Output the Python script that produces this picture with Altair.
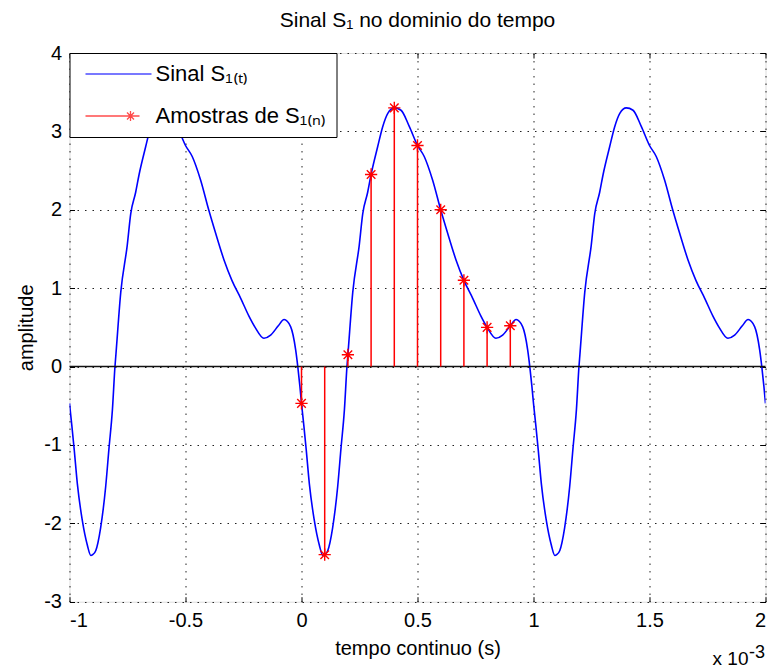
import altair as alt
import pandas as pd

# ---- data (time in units of 1e-3 s) ----
curve_t = [
    -1.000, -0.990, -0.980, -0.966, -0.945, -0.923, -0.908, -0.900, -0.887, -0.866, -0.844,
    -0.830, -0.815, -0.804, -0.800, -0.779, -0.751, -0.736, -0.715, -0.700, -0.672, -0.650,
    -0.628, -0.600, -0.571, -0.535, -0.500, -0.471, -0.435, -0.400, -0.370, -0.334, -0.300,
    -0.262, -0.226, -0.200, -0.162, -0.133, -0.100, -0.075, -0.047, -0.025, -0.016, -0.007,
    0.000, 0.010, 0.020, 0.034, 0.055, 0.077, 0.092, 0.100, 0.113, 0.134, 0.156,
    0.170, 0.185, 0.196, 0.200, 0.221, 0.249, 0.264, 0.285, 0.300, 0.328, 0.350,
    0.372, 0.400, 0.429, 0.465, 0.500, 0.529, 0.565, 0.600, 0.630, 0.666, 0.700,
    0.738, 0.774, 0.800, 0.838, 0.867, 0.900, 0.925, 0.953, 0.975, 0.984, 0.993,
    1.000, 1.010, 1.020, 1.034, 1.055, 1.077, 1.092, 1.100, 1.113, 1.134, 1.156,
    1.170, 1.185, 1.196, 1.200, 1.221, 1.249, 1.264, 1.285, 1.300, 1.328, 1.350,
    1.372, 1.400, 1.429, 1.465, 1.500, 1.529, 1.565, 1.600, 1.630, 1.666, 1.700,
    1.738, 1.774, 1.800, 1.838, 1.867, 1.900, 1.925, 1.953, 1.975, 1.984, 1.993,
    2.000,
]
curve_amp = [
    -0.47, -0.75, -1.05, -1.50, -1.96, -2.28, -2.41, -2.40, -2.35, -2.06, -1.53,
    -1.05, -0.55, 0.00, 0.15, 0.95, 1.55, 1.95, 2.22, 2.45, 2.80, 3.06,
    3.23, 3.30, 3.27, 3.06, 2.82, 2.68, 2.38, 2.00, 1.70, 1.36, 1.10,
    0.87, 0.64, 0.50, 0.36, 0.40, 0.52, 0.60, 0.51, 0.21, 0.00, -0.25,
    -0.47, -0.75, -1.05, -1.50, -1.96, -2.28, -2.41, -2.40, -2.35, -2.06, -1.53,
    -1.05, -0.55, 0.00, 0.15, 0.95, 1.55, 1.95, 2.22, 2.45, 2.80, 3.06,
    3.23, 3.30, 3.27, 3.06, 2.82, 2.68, 2.38, 2.00, 1.70, 1.36, 1.10,
    0.87, 0.64, 0.50, 0.36, 0.40, 0.52, 0.60, 0.51, 0.21, 0.00, -0.25,
    -0.47, -0.75, -1.05, -1.50, -1.96, -2.28, -2.41, -2.40, -2.35, -2.06, -1.53,
    -1.05, -0.55, 0.00, 0.15, 0.95, 1.55, 1.95, 2.22, 2.45, 2.80, 3.06,
    3.23, 3.30, 3.27, 3.06, 2.82, 2.68, 2.38, 2.00, 1.70, 1.36, 1.10,
    0.87, 0.64, 0.50, 0.36, 0.40, 0.52, 0.60, 0.51, 0.21, 0.00, -0.25,
    -0.47,
]
sample_t = [0.0, 0.1, 0.2, 0.3, 0.4, 0.5, 0.6, 0.7, 0.8, 0.9]
sample_amp = [-0.47, -2.40, 0.15, 2.45, 3.30, 2.82, 2.00, 1.10, 0.50, 0.52]

x_ticks = [-1, -0.5, 0, 0.5, 1, 1.5, 2]
y_ticks = [-3, -2, -1, 0, 1, 2, 3, 4]
series_names = ["Sinal S₁₍ₜ₎", "Amostras de S₁₍ₙ₎"]
series_colors = ["#0000ff", "#ff0000"]

FONT = "Liberation Sans"
W, H = 696, 548.7

curve_df = pd.DataFrame({"t": curve_t, "v": curve_amp})
sample_df = pd.DataFrame({"t": sample_t, "v": sample_amp})
legend_df = pd.DataFrame({"series": series_names, "t": [5, 5], "v": [0, 0]})
one_df = pd.DataFrame({"a": [0]})

xscale = alt.Scale(domain=[-1, 2], nice=False, zero=False)
yscale = alt.Scale(domain=[-3, 4], nice=False, zero=False)

grid_kw = dict(grid=True, gridDash=[1.5, 6], gridColor="#222222", gridWidth=1)
tick_kw = dict(ticks=True, tickSize=5, tickColor="black", tickWidth=1, domain=False)

x_main = alt.X("t:Q", scale=xscale, axis=alt.Axis(
    orient="bottom", values=x_ticks, labelExpr="'' + datum.value", offset=-5,
    labelPadding=9, labelFontSize=20, labelFont=FONT, labelColor="black",
    title="tempo continuo (s)", titleFontSize=20, titleFont=FONT,
    titleFontWeight="normal", titleColor="black", titlePadding=8,
    **grid_kw, **tick_kw))
y_main = alt.Y("v:Q", scale=yscale, axis=alt.Axis(
    orient="left", values=y_ticks, labelExpr="'' + datum.value", offset=-5,
    labelPadding=8, labelFontSize=20, labelFont=FONT, labelColor="black",
    title="amplitude", titleFontSize=20, titleFont=FONT,
    titleFontWeight="normal", titleColor="black", titlePadding=7,
    **grid_kw, **tick_kw))

x_top = alt.X("t:Q", scale=xscale, axis=alt.Axis(
    orient="top", values=x_ticks, offset=-5, labels=False, grid=False,
    title=None, **tick_kw))
y_right = alt.Y("v:Q", scale=yscale, axis=alt.Axis(
    orient="right", values=y_ticks, offset=-5, labels=False, grid=False,
    title=None, **tick_kw))

curve = alt.Chart(curve_df).mark_line(
    color="#0000ff", strokeWidth=1.6, interpolate="monotone", clip=True
).encode(x=x_main, y=y_main)

zero_line = alt.Chart(one_df).mark_rule(color="#111111", strokeWidth=1.5).encode(
    y=alt.YDatum(0, scale=yscale, axis=None), x=alt.value(0), x2=alt.value(W))

stems = alt.Chart(sample_df).mark_rule(color="#ff0000", strokeWidth=1.5).encode(
    x=x_top, y=y_right, y2=alt.datum(0))

asterisk = "M-1,0L1,0M0,-1L0,1M-0.7,-0.7L0.7,0.7M-0.7,0.7L0.7,-0.7"
stars = alt.Chart(sample_df).mark_point(
    shape=asterisk, filled=False, color="#ff0000", size=150, strokeWidth=1.4, opacity=1
).encode(x=alt.X("t:Q", scale=xscale, axis=None), y=alt.Y("v:Q", scale=yscale, axis=None))

line_path = "M-1,0L12.2,0"
star_path = ("M-1,0L9.8,0M8,-1L8,1M7,0L9,0M7.3,-0.7L8.7,0.7M7.3,0.7L8.7,-0.7")
leg = alt.Legend(title=None, orient="top-left", offset=0, fillColor="white",
                 strokeColor="black", padding=10, rowPadding=20,
                 labelFontSize=22, labelFont=FONT, labelColor="black", labelLimit=400,
                 labelOffset=54, symbolSize=100, symbolStrokeWidth=1.3, zindex=2)
legend_layer = alt.Chart(legend_df).mark_point(filled=False, clip=True, size=100).encode(
    x=alt.X("t:Q", scale=xscale, axis=None),
    y=alt.Y("v:Q", scale=yscale, axis=None),
    color=alt.Color("series:N", scale=alt.Scale(domain=series_names, range=series_colors), legend=leg),
    shape=alt.Shape("series:N", scale=alt.Scale(domain=series_names, range=[line_path, star_path]), legend=leg),
)

note1 = alt.Chart(one_df).mark_text(
    text="x 10", align="right", baseline="alphabetic", fontSize=19, font=FONT, color="black"
).encode(x=alt.value(679), y=alt.value(612))
note2 = alt.Chart(one_df).mark_text(
    text="-3", align="left", baseline="alphabetic", fontSize=18, font=FONT, color="black"
).encode(x=alt.value(679.5), y=alt.value(605))

chart = alt.layer(curve, zero_line, stems, stars, legend_layer, note1, note2).resolve_axis(
    x="independent", y="independent"
).properties(
    width=W, height=H,
    title=alt.TitleParams("Sinal S₁ no dominio do tempo", fontSize=21, font=FONT,
                          fontWeight="normal", color="black", anchor="middle",
                          baseline="alphabetic", offset=0, dy=5),
    autosize="none",
    padding={"left": 69.5, "top": 53, "right": 4.5, "bottom": 66.3},
).configure_view(stroke="black", strokeWidth=1.2).configure_legend(strokeWidth=2).configure(
    background="white")

chart.save("out.html", embed_options={"renderer": "svg", "actions": False})
